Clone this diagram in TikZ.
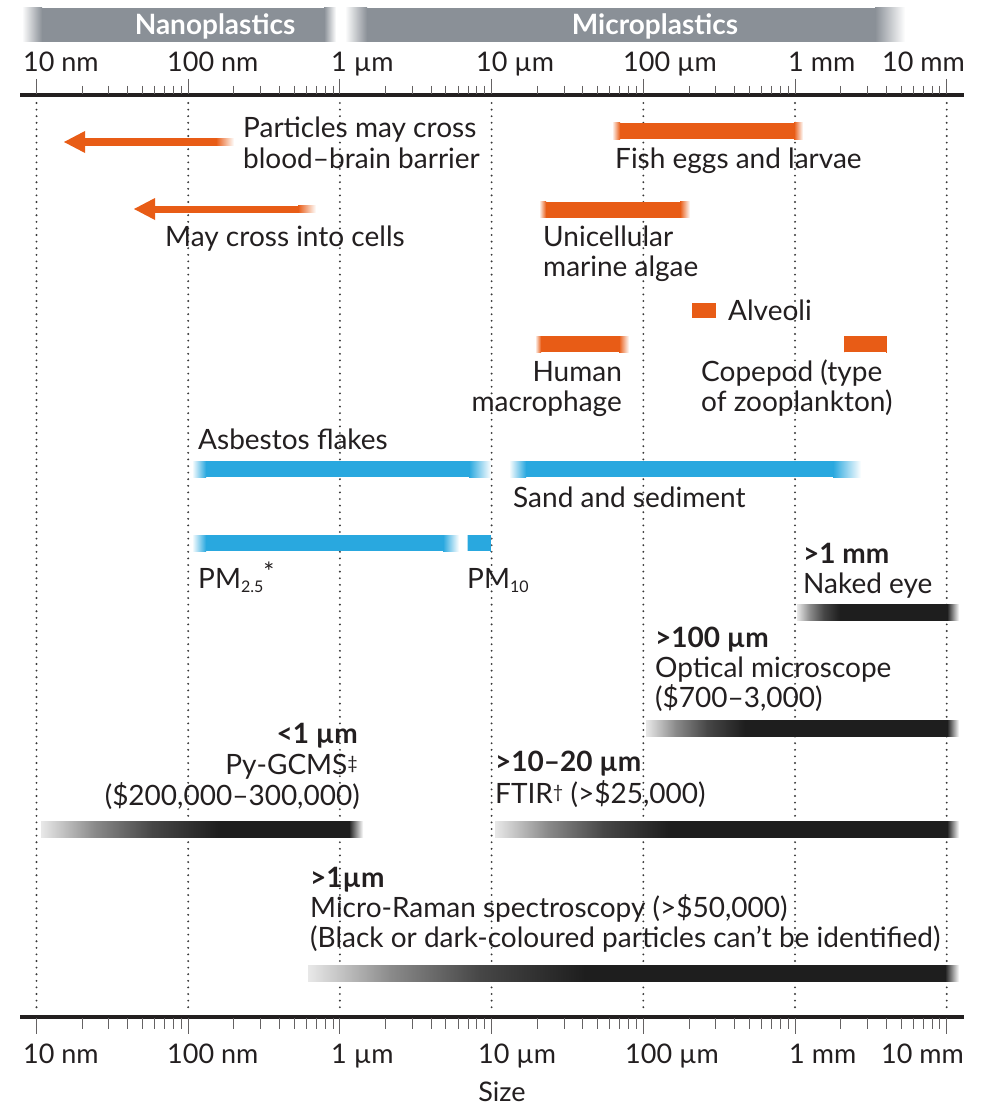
\documentclass[tikz,border=0pt]{standalone}
\usepackage{fontspec}
\setmainfont{Lato}
\usetikzlibrary{calc}
\definecolor{org}{RGB}{232,92,22}
\definecolor{blu}{RGB}{41,168,223}
\definecolor{hdr}{RGB}{138,144,151}
\definecolor{drk}{RGB}{30,30,30}
\definecolor{txt}{RGB}{35,31,32}
\definecolor{dotc}{RGB}{55,55,55}
\newcommand{\fadebar}[7]{% color, x1, x2, yc, h, left fade, right fade
  \fill[#1] ({#2+#6-0.3},{#4-#5/2}) rectangle ({#3-#7+0.3},{#4+#5/2});
  \shade[left color=white,right color=#1] ({#2},{#4-#5/2}) rectangle ({#2+#6},{#4+#5/2});
  \shade[left color=#1,right color=white] ({#3-#7},{#4-#5/2}) rectangle ({#3},{#4+#5/2});
}
\newcommand{\instbar}[6]{% x1, x2, yc, gradient end, right fade, shading name
  \pgfmathsetmacro\myshA{25+50*0.3*(#4-#1)/(#2-#1)}%
  \pgfmathsetmacro\myshB{25+50*0.62*(#4-#1)/(#2-#1)}%
  \pgfmathsetmacro\myshG{25+50*(#4-#1)/(#2-#1)}%
  \pgfmathsetmacro\myshR{75-50*(#5)/(#2-#1)}%
  \edef\myshtmp{\noexpand\pgfdeclarehorizontalshading{#6}{100bp}{color(0bp)=(drk!10); color(25bp)=(drk!10); color(\myshA bp)=(drk!52); color(\myshB bp)=(drk!82); color(\myshG bp)=(drk); color(\myshR bp)=(drk); color(75bp)=(white); color(100bp)=(white)}}%
  \myshtmp
  \shade[shading=#6] ({#1},{#3-8}) rectangle ({#2},{#3+8});
}
\newcommand{\lfs}{\fontsize{28}{30}\selectfont}
\newcommand{\afs}{\fontsize{27}{30}\selectfont}
\begin{document}
\begin{tikzpicture}[x=1pt,y=-1pt,
  lab/.style={font=\lfs, text=txt, inner sep=0pt, anchor=base west},
  labr/.style={lab, anchor=base east},
  axlab/.style={font=\afs, text=txt, inner sep=0pt, anchor=base west},
  hdrtxt/.style={font=\fontsize{28}{30}\selectfont\bfseries, text=white, inner sep=0pt, anchor=base},
  dotline/.style={dotc, line width=2.1pt, line cap=round, dash pattern=on 0pt off 6.6pt},
  tickln/.style={txt!70, line width=0.9pt},
  axisln/.style={txt, line width=4.5pt}]
\useasboundingbox (0,0) rectangle (983,1105);
\fill[white] (0,0) rectangle (983,1105);
\def\xo{36.5}\def\dd{151.7}
\foreach \k in {0,...,6}{\coordinate (d\k) at ({\xo+\dd*\k},0);}
% dotted decade lines
\foreach \k in {0,...,6}{\draw[dotline] ($(d\k)+(0,103)$) -- ($(d\k)+(0,1010)$);}
% header bars
\fadebar{hdr}{22}{336}{25}{34}{20}{12}
\fadebar{hdr}{345}{905}{25}{34}{22}{30}
\node[hdrtxt] (nano) at (215,35) {Nanoplastics};
\node[hdrtxt] (micro) at (655,35) {Microplastics};
% top axis
\draw[axisln] (20,95) -- (964,95);
\foreach \k in {0,...,6}{\draw[tickln] ($(d\k)+(0,79)$) -- ($(d\k)+(0,94)$);}
\foreach \k in {0,...,5}{\foreach \m in {2,...,9}{\draw[tickln] ({\xo+\dd*(\k+ln(\m)/ln(10))},86) -- ++(0,8);}}
\node[axlab] (ta0) at (23,72) {10 nm};
\node[axlab] (ta1) at (167,72) {100 nm};
\node[axlab] (ta2) at (331,72) {1 µm};
\node[axlab] (ta3) at (476,72) {10 µm};
\node[axlab] (ta4) at (623,72) {100 µm};
\node[axlab] (ta5) at (788,72) {1 mm};
\node[axlab,anchor=base east] (ta6) at (965,72) {10 mm};
% bottom axis
\draw[axisln] (20,1017) -- (964,1017);
\foreach \k in {0,...,6}{\draw[tickln] ($(d\k)+(0,1018)$) -- ($(d\k)+(0,1034)$);}
\foreach \k in {0,...,5}{\foreach \m in {2,...,9}{\draw[tickln] ({\xo+\dd*(\k+ln(\m)/ln(10))},1018) -- ++(0,11);}}
\node[axlab] (ba0) at (23,1063) {10 nm};
\node[axlab] (ba1) at (167,1063) {100 nm};
\node[axlab] (ba2) at (331,1063) {1 µm};
\node[axlab] (ba3) at (478,1063) {10 µm};
\node[axlab] (ba4) at (625,1063) {100 µm};
\node[axlab] (ba5) at (789,1063) {1 mm};
\node[axlab,anchor=base east] (ba6) at (964,1063) {10 mm};
\node[axlab,anchor=base] (size) at (502,1101) {Size};
% arrows
\coordinate (a1tip) at (64,142);
\coordinate (a1end) at (234,142);
\fadebar{org}{82}{234}{142}{7}{0.5}{18}
\fill[org] (a1tip) -- ++(21,-11) -- ++(0,22) -- cycle;
\node[lab] (bbb1) at (243,138) {Particles may cross};
\node[lab] (bbb2) at (243,168) {blood–brain barrier};
\coordinate (a2tip) at (134,209);
\coordinate (a2end) at (316,209);
\fadebar{org}{152}{316}{209}{7}{0.5}{18}
\fill[org] (a2tip) -- ++(21,-11) -- ++(0,22) -- cycle;
\node[lab] (cells) at (165,246) {May cross into cells};
% orange bars
\fadebar{org}{612}{803}{131}{16}{8}{9}
\node[lab] (fish) at (615,168) {Fish eggs and larvae};
\fadebar{org}{539}{690}{209.5}{16}{7}{10}
\node[lab] (alg1) at (543,246) {Unicellular};
\node[lab] (alg2) at (543,276) {marine algae};
\fill[org] (692,303) rectangle (716,318);
\node[lab] (alv) at (728,320) {Alveoli};
\fadebar{org}{535}{629}{344}{16}{6}{10}
\node[labr] (mac1) at (622,381) {Human};
\node[labr] (mac2) at (622,411) {macrophage};
\fadebar{org}{843}{887}{344}{16}{1}{1}
\node[lab] (cop1) at (701,381) {Copepod (type};
\node[lab] (cop2) at (701,411) {of zooplankton)};
% blue bars
\node[lab] (asb) at (198,449) {Asbestos flakes};
\fadebar{blu}{192}{491}{469}{16}{14}{22}
\fadebar{blu}{509}{861}{469}{16}{17}{28}
\node[lab] (sand) at (513,507) {Sand and sediment};
\fadebar{blu}{192}{459}{543}{16}{14}{16}
\fadebar{blu}{467}{491}{543}{16}{0.5}{1}
\node[lab] (pm25) at (198,588) {PM{\fontsize{16}{16}\selectfont\raisebox{-0.55ex}{2.5}\raisebox{0.75ex}{\fontsize{26}{26}\selectfont *}}};
\node[lab] (pm10) at (467,588) {PM{\fontsize{16}{16}\selectfont\raisebox{-0.55ex}{10}}};
% naked eye
\node[lab,font=\lfs\bfseries] (ne1) at (803,563) {>1 mm};
\node[lab] (ne2) at (803,593) {Naked eye};
\instbar{797}{959}{612}{840}{12}{shNE}
% optical
\node[lab,font=\lfs\bfseries] (om1) at (655,647) {>100 µm};
\node[lab] (om2) at (655,677) {Optical microscope};
\node[lab] (om3) at (655,707) {(\$700–3,000)};
\instbar{646}{959}{728}{745}{12}{shOM}
% Py-GCMS
\node[labr,font=\lfs\bfseries] (py1) at (358,743) {<1 µm};
\node[labr] (py2) at (358,774) {Py-GCMS{\fontsize{18}{18}\selectfont\raisebox{0.45ex}{‡}}};
\node[labr] (py3) at (360,805) {(\$200,000–300,000)};
\instbar{41}{363}{829}{220}{14}{shPY}
% FTIR
\node[lab,font=\lfs\bfseries] (ft1) at (495,771) {>10–20 µm};
\node[lab] (ft2) at (495,803) {FTIR{\fontsize{18}{18}\selectfont\raisebox{0.45ex}{†}} (>\$25,000)};
\instbar{495}{959}{829}{670}{12}{shFT}
% Micro-Raman
\node[lab,font=\lfs\bfseries] (mr1) at (310,887) {>1µm};
\node[lab] (mr2) at (310,917) {Micro-Raman spectroscopy (>\$50,000)};
\node[lab] (mr3) at (310,947) {(Black or dark-coloured particles can’t be identified)};
\instbar{308}{959}{973}{585}{14}{shMR}
\end{tikzpicture}
\end{document}
